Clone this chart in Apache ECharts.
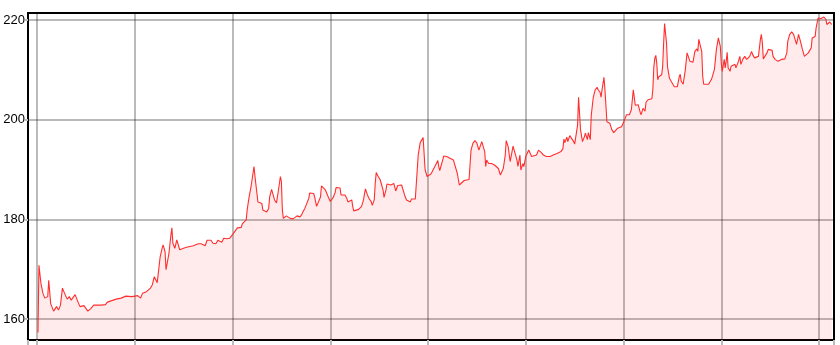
<!DOCTYPE html>
<html>
<head>
<meta charset="utf-8">
<script src="https://cdn.jsdelivr.net/npm/echarts@6/dist/echarts.min.js"></script>
<style>
html,body{margin:0;padding:0;background:#fff;}
#chart{width:840px;height:345px;}
</style>
</head>
<body>
<div id="chart"></div>
<script>
// Trading-day index of each sample
const days = [
1,2,4,6,8,11,12,13,14,17,18,20,22,24,26,27,29,31,33,35,37,39,40,42,44,46,48,50,52,55,58,60,63,66,70,72,75,78,81,83,86,88,91,93,97,100,
103,106,108,112,116,118,120,122,123,125,126,128,129,131,132,134,135,137,138,139,141,143,145,146,148,150,153,155,160,162,165,168,170,172,174,176,178,180,183,185,187,189,191,194,197,199,
201,203,205,207,209,210,212,214,215,217,219,221,222,223,225,226,228,230,231,233,235,237,238,240,242,243,245,247,249,250,251,252,254,255,257,259,262,264,266,267,269,271,272,274,276,278,279,281,283,284,286,288,290,291,293,295,296,298,
300,301,303,305,306,308,310,311,313,315,317,318,320,322,323,324,326,329,330,332,334,335,336,337,338,340,342,343,345,346,347,349,351,353,354,355,357,358,360,362,364,365,367,369,371,373,375,376,378,380,382,383,385,387,388,390,392,393,395,396,397,399,
401,403,405,407,409,410,411,412,415,416,419,422,426,428,430,432,434,437,439,442,444,446,448,450,452,455,456,458,459,460,462,465,468,470,472,474,475,477,479,480,482,484,485,487,489,491,492,494,495,497,498,
500,503,504,506,508,511,513,515,516,518,521,525,528,532,534,536,538,539,540,542,543,545,547,549,550,552,553,554,555,556,558,560,561,563,564,566,567,569,571,573,574,576,577,578,580,581,583,585,586,588,590,592,594,596,598,
600,601,603,605,606,608,610,612,613,615,617,618,620,622,623,625,627,629,630,631,632,633,634,635,636,639,640,641,642,643,644,645,647,649,652,654,655,657,658,659,661,663,665,666,668,670,671,673,675,676,677,679,680,681,682,684,687,688,690,692,693,695,697,698,699,
700,701,703,704,705,706,707,709,710,712,714,715,717,719,720,722,724,726,727,729,731,732,734,736,738,740,741,742,743,745,747,748,750,752,753,755,757,758,760,762,763,765,767,768,770,772,774,775,777,779,780,781,783,785,787,789,792,793,795,796,797,799,
800,802,804,805,807,808,810,811,813
];
// Price at each sample
const prices = [
157.3,170.8,167.2,165.2,164.2,164.5,167.8,167.8,163.1,161.6,161.3,162.5,161.8,162.8,166.2,166.6,164.8,164.0,164.5,163.8,163.5,164.9,165.2,163.4,162.5,162.3,162.7,162.3,161.6,162.1,162.8,162.9,162.8,162.8,162.9,163.4,163.6,163.8,164.0,164.3,164.2,164.4,164.6,164.5,164.5,164.6,
164.7,164.2,165.2,165.5,166.2,166.9,168.5,168.6,167.3,167.5,172.5,174.2,174.9,173.5,169.9,169.5,173.2,176.9,178.3,175.2,174.2,175.9,175.5,173.9,173.9,174.2,174.4,174.7,174.7,175.0,175.1,175.1,175.4,174.7,175.8,175.4,175.8,175.2,175.1,175.8,176.0,175.4,176.2,176.1,176.2,176.4,
177.2,177.4,178.3,178.7,178.4,179.1,178.8,179.9,181.9,184.5,186.6,189.3,190.6,188.6,185.2,183.5,183.5,183.2,181.9,181.5,181.5,182.2,184.5,186.0,185.9,183.9,183.3,185.9,188.6,187.6,181.9,180.2,180.2,180.7,180.5,180.2,180.1,180.2,180.7,180.7,180.5,181.0,181.5,182.2,183.2,184.2,185.3,185.2,185.2,184.5,182.6,182.5,184.5,186.7,186.4,185.9,185.6,184.5,
183.6,183.7,184.4,185.4,186.4,186.8,186.3,184.9,185.1,184.9,184.2,183.5,183.1,183.9,182.6,181.7,181.9,182.0,182.4,182.6,183.9,185.1,186.1,186.3,184.9,184.1,183.5,182.8,183.9,187.2,189.4,188.6,188.0,187.6,185.9,184.4,185.9,187.1,187.3,186.9,187.3,187.2,185.7,186.8,186.9,186.9,186.6,184.9,183.9,183.9,183.5,184.1,184.0,184.1,184.4,193.0,195.4,195.8,196.4,196.6,190.0,188.6,
188.2,189.1,189.2,190.6,191.0,191.8,190.6,189.8,191.9,192.7,192.6,192.3,191.9,191.6,189.2,186.9,187.2,187.8,188.2,188.0,193.9,195.3,195.8,195.3,193.9,195.6,195.3,193.6,190.6,191.9,191.2,191.2,190.9,190.9,190.2,188.9,189.2,190.2,192.9,195.8,194.6,191.6,191.6,194.7,194.9,191.9,190.6,192.9,189.9,191.2,190.6,
192.6,193.9,193.9,192.6,192.5,192.9,193.9,194.1,193.4,192.9,192.6,192.6,192.9,193.2,193.4,193.6,194.2,196.1,195.4,196.5,195.6,196.8,196.9,195.6,195.1,195.0,198.9,204.5,204.5,198.0,195.6,196.6,197.3,196.0,197.4,196.0,200.9,204.4,206.0,206.5,206.0,205.5,204.5,206.0,208.5,206.0,199.6,199.3,199.3,198.0,197.4,197.6,198.3,198.4,198.6,
198.9,199.9,201.0,201.2,201.0,202.0,206.0,202.9,202.6,203.0,201.5,201.0,202.3,201.7,203.5,204.0,203.8,204.2,206.1,210.6,212.3,212.9,211.3,208.0,208.6,209.0,210.6,215.3,219.3,219.7,215.3,210.6,208.3,207.6,206.6,206.2,206.6,208.6,209.1,207.7,207.1,209.7,213.4,213.7,211.7,211.4,211.5,213.7,214.2,213.7,216.1,216.4,213.7,208.7,207.1,207.4,207.1,207.1,208.1,208.4,210.1,214.1,216.4,216.7,214.7,
211.4,209.7,212.1,210.4,211.7,213.5,210.4,209.7,210.7,210.4,211.1,210.4,211.4,212.7,211.1,212.1,212.7,212.1,212.1,212.7,213.7,213.1,212.4,212.2,212.7,216.1,217.1,215.4,212.2,212.4,213.5,214.1,214.2,213.9,212.7,212.1,211.7,211.7,212.1,212.1,212.2,212.2,213.4,215.7,217.1,217.6,217.1,216.4,215.1,217.1,217.4,215.7,214.1,212.7,212.7,213.4,214.4,216.4,216.2,216.7,218.4,220.4,
220.6,220.3,220.4,220.6,220.1,219.1,219.4,219.6,219.1
];
const yTicks = [160, 180, 200, 220];

const seriesData = days.map((d, i) => [d, prices[i]]);

const chart = echarts.init(document.getElementById('chart'), null, {renderer: 'canvas'});
chart.setOption({
  animation: false,
  grid: {left: 28, right: 6, top: 13, bottom: 5, show: true, borderColor: '#000', borderWidth: 2, backgroundColor: 'transparent'},
  xAxis: {
    type: 'value', min: -9.2, max: 815.3, splitNumber: 8,
    axisLine: {show: true, onZero: false, lineStyle: {color: '#000', width: 2}},
    axisTick: {show: true, length: 7, lineStyle: {color: '#bbb', width: 2}},
    axisLabel: {show: false},
    splitLine: {show: true, lineStyle: {color: 'rgba(0,0,0,0.27)', width: 2}}
  },
  yAxis: {
    type: 'value', min: 155.8, max: 221.4, splitNumber: 3,
    axisLine: {show: true, onZero: false, lineStyle: {color: '#000', width: 2}},
    axisTick: {show: true, length: 3, lineStyle: {color: '#bbb', width: 2}},
    axisLabel: {
      showMinLabel: false, showMaxLabel: false, margin: 3,
      color: '#000', fontSize: 13, fontFamily: 'Liberation Sans',
      formatter: v => yTicks.includes(Math.round(v)) ? String(Math.round(v)) : ''
    },
    splitLine: {show: true, lineStyle: {color: 'rgba(0,0,0,0.27)', width: 2}}
  },
  series: [{
    type: 'line', data: seriesData, showSymbol: false, symbol: 'none',
    lineStyle: {color: '#ff2e2e', width: 1.1},
    areaStyle: {color: 'rgba(255,0,0,0.11)', origin: 'start'}
  }]
});
</script>
</body>
</html>
